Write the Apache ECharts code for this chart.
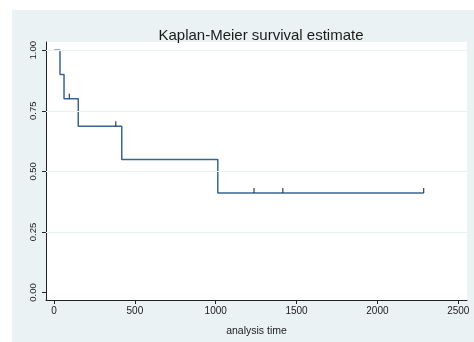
<!DOCTYPE html>
<html>
<head>
<meta charset="utf-8">
<script src="https://cdn.jsdelivr.net/npm/echarts@6/dist/echarts.min.js"></script>
<style>
  html, body { margin: 0; padding: 0; background: #fff; }
  #chart { width: 474px; height: 342px; }
</style>
</head>
<body>
<div id="chart"></div>
<script>
// step points of the survival curve (time, survivor function)
const stepTimes = [0, 37, 62, 150, 419, 1013, 2286]
const stepSurv = [1.0, 0.9, 0.8, 0.686, 0.549, 0.411, 0.411]
// censored observations
const censorTimes = [95, 382, 1237, 1415, 2286]
const censorSurv = [0.8, 0.686, 0.411, 0.411, 0.411]
const xTicks = [0, 500, 1000, 1500, 2000, 2500]
const yTicks = [0, 0.25, 0.5, 0.75, 1]
const gridVals = [0.25, 0.5, 0.75, 1]

const font = 'Liberation Sans, Arial, Helvetica, sans-serif'
const chart = echarts.init(document.getElementById('chart'))

const option = {
    backgroundColor: '#fff',
    animation: false,
    graphic: [{
        type: 'rect',
        z: -10,
        shape: { x: 12, y: 10, width: 462, height: 332 },
        style: { fill: '#eaf2f3' },
    }],
    title: {
        text: 'Kaplan-Meier survival estimate',
        left: 256,
        textAlign: 'center',
        top: 23,
        textStyle: {
            fontFamily: font,
            fontSize: 15,
            fontWeight: 'normal',
            color: '#1b1b1b',
        },
    },
    grid: {
        left: 46,
        right: 7,
        top: 42,
        bottom: 39,
        show: true,
        backgroundColor: '#fff',
        borderWidth: 0,
    },
    xAxis: {
        type: 'value',
        min: -49.5,
        max: 2554,
        name: 'analysis time',
        nameLocation: 'middle',
        nameGap: 26,
        nameTextStyle: { fontFamily: font, fontSize: 10.5, color: '#1b1b1b' },
        axisLine: { show: true, onZero: false, lineStyle: { color: '#222', width: 1 } },
        axisTick: { show: true, length: 4, customValues: xTicks, lineStyle: { color: '#222' } },
        axisLabel: {
            customValues: xTicks,
            margin: 6,
            fontFamily: font,
            fontSize: 10,
            color: '#1b1b1b',
            formatter: (v) => String(v),
        },
        splitLine: { show: false },
    },
    yAxis: {
        type: 'value',
        min: -0.031,
        max: 1.034,
        axisLine: { show: true, onZero: false, lineStyle: { color: '#222', width: 1 } },
        axisTick: { show: true, length: 4, customValues: yTicks, lineStyle: { color: '#222' } },
        axisLabel: {
            customValues: yTicks,
            rotate: 90,
            margin: 8,
            fontFamily: font,
            fontSize: 9.5,
            color: '#1b1b1b',
            formatter: (v) => v.toFixed(2),
        },
        splitLine: { show: false },
    },
    series: [
        {
            // grid lines
            type: 'line',
            data: [],
            z: 1,
            silent: true,
            markLine: {
                silent: true,
                symbol: 'none',
                label: { show: false },
                lineStyle: { color: '#e8f0f2', width: 1, type: 'solid' },
                data: gridVals.map((v) => ({ yAxis: v })),
            },
        },
        {
            type: 'line',
            step: 'end',
            z: 3,
            showSymbol: false,
            lineStyle: { color: '#3a6590', width: 1.5 },
            data: stepTimes.map((t, i) => [t, stepSurv[i]]),
        },
        {
            type: 'scatter',
            z: 4,
            symbol: 'rect',
            symbolSize: [1.3, 5],
            symbolOffset: [0, -2.5],
            itemStyle: { color: '#222' },
            data: censorTimes.map((t, i) => [t, censorSurv[i]]),
        },
    ],
}
option && chart.setOption(option)
</script>
</body>
</html>
